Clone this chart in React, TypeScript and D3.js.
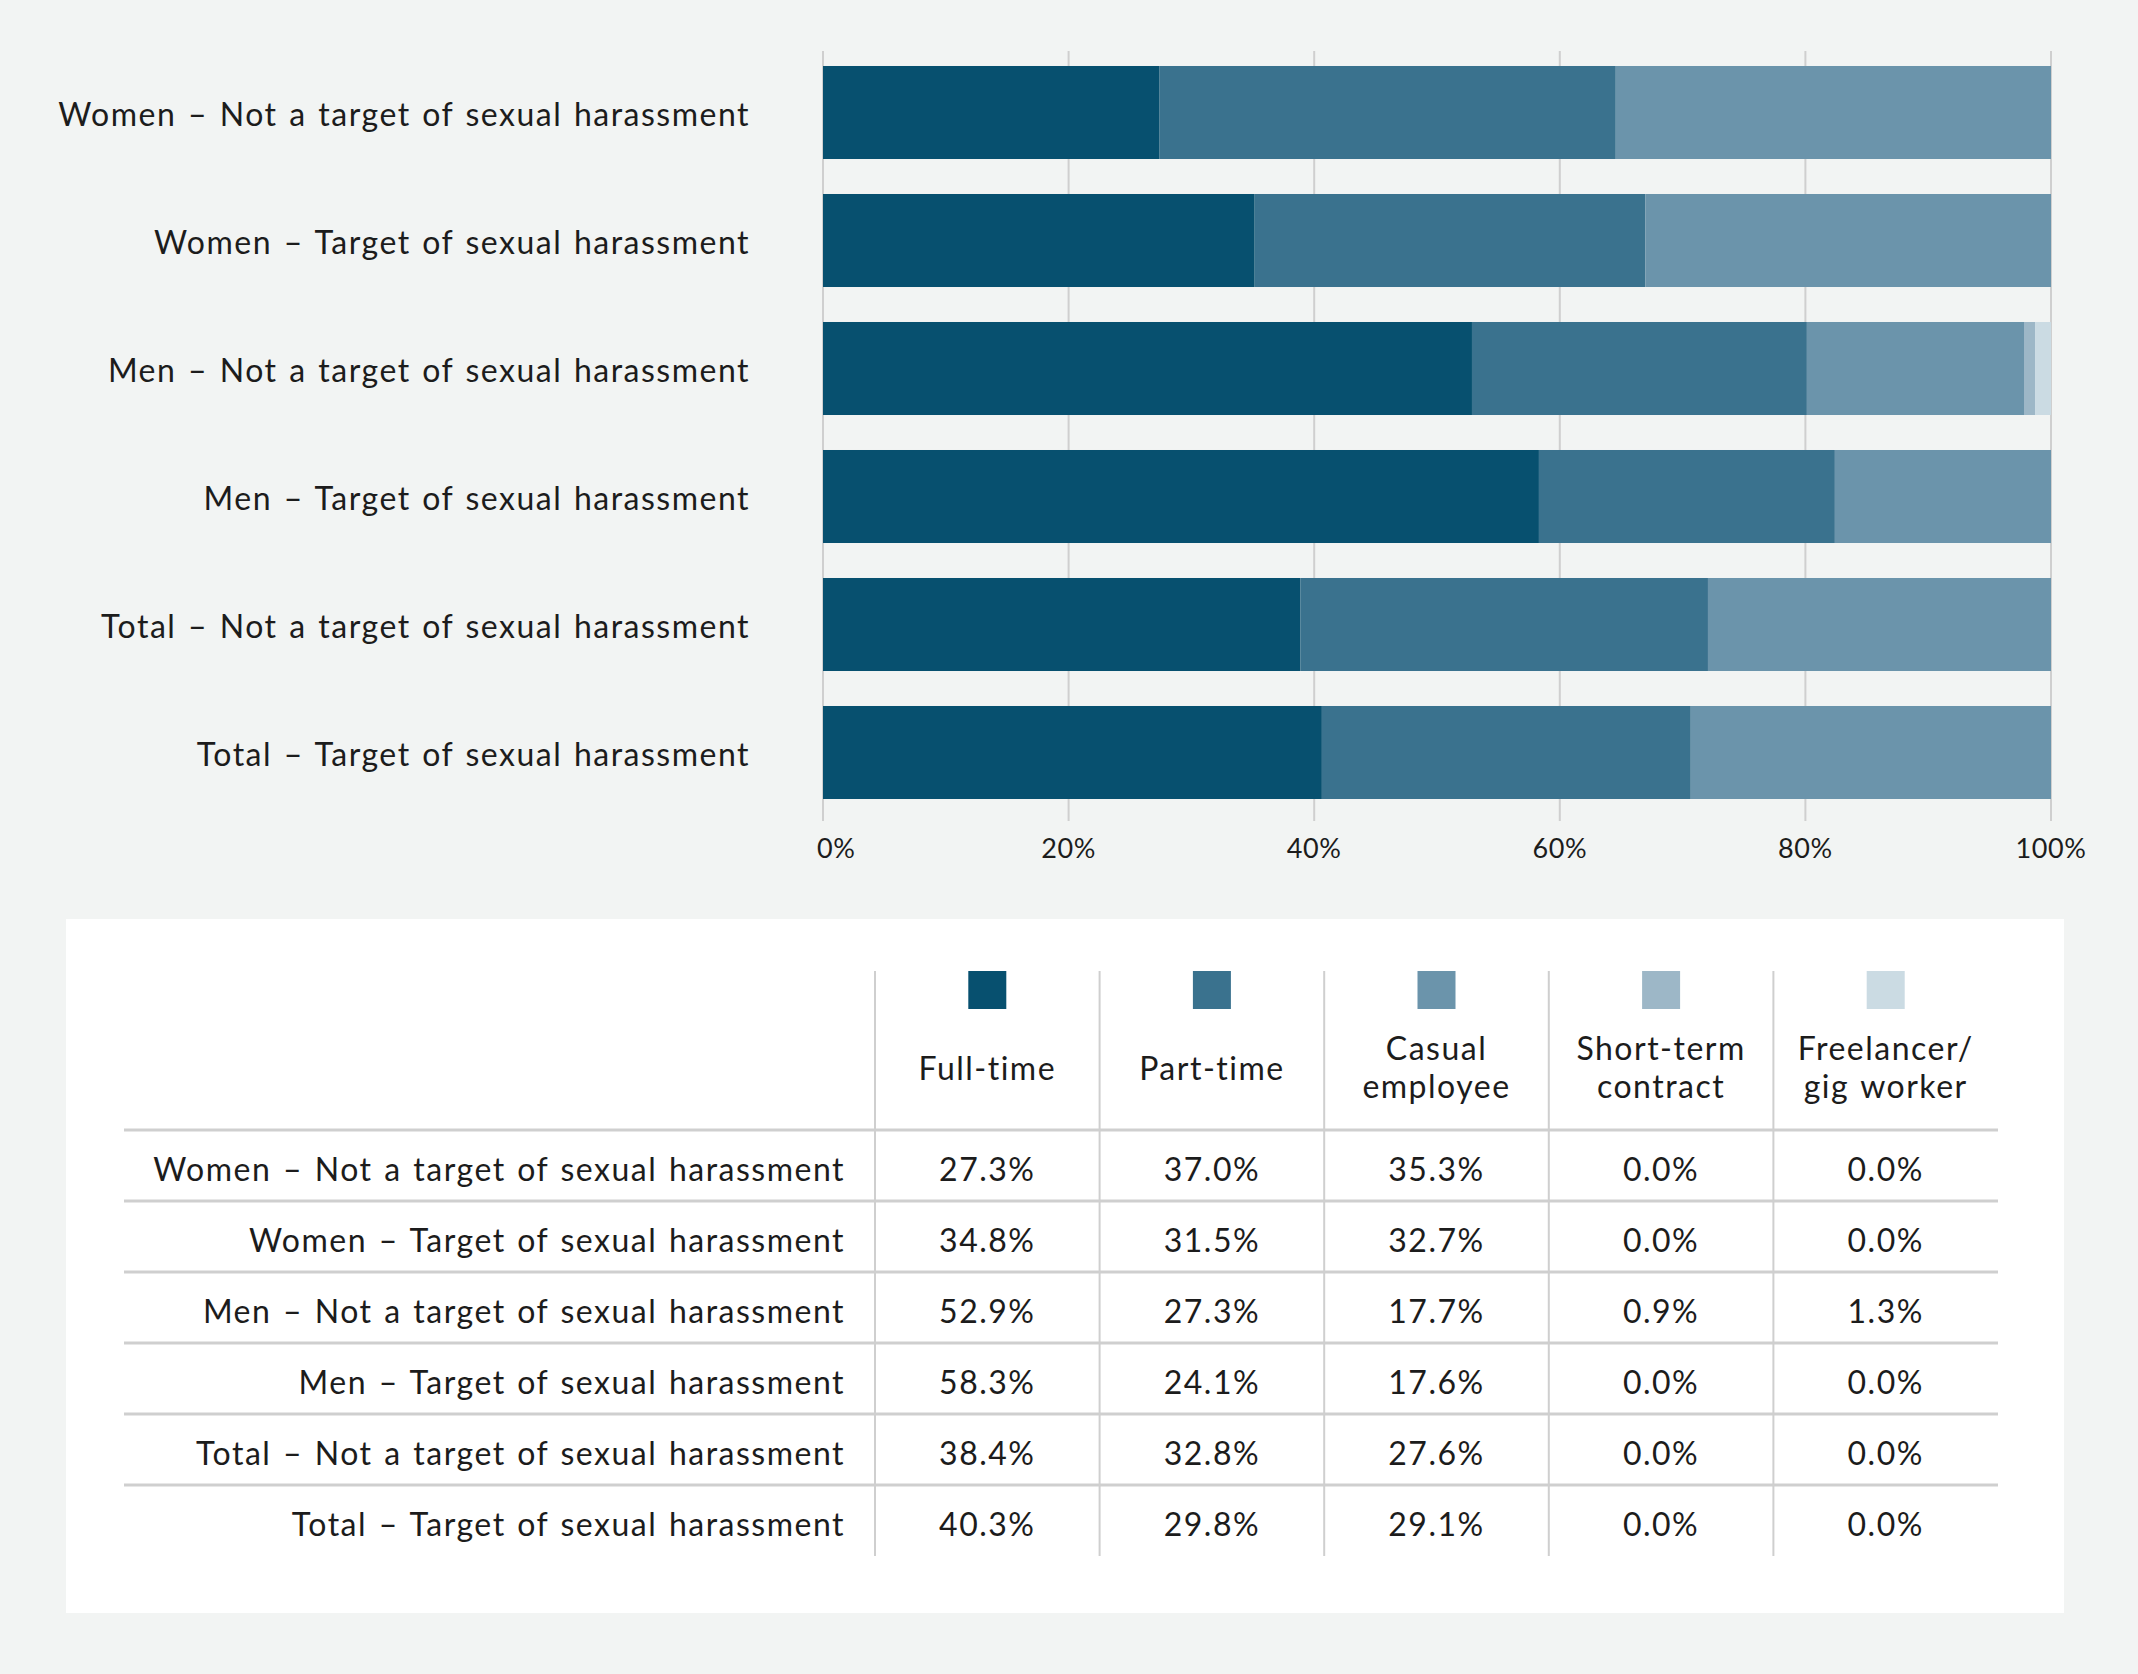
import React from 'react';
import * as d3 from 'd3';

const categories = [
  'Women – Not a target of sexual harassment',
  'Women – Target of sexual harassment',
  'Men – Not a target of sexual harassment',
  'Men – Target of sexual harassment',
  'Total – Not a target of sexual harassment',
  'Total – Target of sexual harassment',
];
const seriesKeys = ['fullTime', 'partTime', 'casual', 'shortTerm', 'freelancer'];
const headerLines = [['Full-time'], ['Part-time'], ['Casual', 'employee'], ['Short-term', 'contract'], ['Freelancer/', 'gig worker']];
const fullTime = [27.3, 34.8, 52.9, 58.3, 38.4, 40.3];
const partTime = [37.0, 31.5, 27.3, 24.1, 32.8, 29.8];
const casual = [35.3, 32.7, 17.7, 17.6, 27.6, 29.1];
const shortTerm = [0.0, 0.0, 0.9, 0.0, 0.0, 0.0];
const freelancer = [0.0, 0.0, 1.3, 0.0, 0.0, 0.0];
const tickValues = [0, 0.2, 0.4, 0.6, 0.8, 1];
const colors = ['#07506f', '#3a728e', '#6b94ab', '#9db7c7', '#cbdbe3'];

const seriesValues = [fullTime, partTime, casual, shortTerm, freelancer];
const rows = categories.map((c, i) => {
  const r: any = { category: c };
  seriesKeys.forEach((k, j) => (r[k] = seriesValues[j][i]));
  return r;
});

const W = 2138;
const H = 1674;
const FONT = 'Lato, "Noto Sans", sans-serif';
const TEXT = '#1c1c1c';
const GRID = '#cfcfcf';
const textStyle = { fontSize: 32, letterSpacing: 1.5, wordSpacing: 2 };

export default function App() {
  const stacked = d3.stack<any>().keys(seriesKeys).offset(d3.stackOffsetExpand)(rows);
  const x = d3.scaleLinear().domain([0, 1]).range([823, 2051]);
  const y = d3.scaleBand<string>().domain(categories).range([48.5, 816.5]).paddingInner(0.2734).paddingOuter(0.1367);
  const fmt = d3.format('.0%');

  const colX = d3.scaleBand<string>().domain(seriesKeys).range([875, 1998]).padding(0);
  const rowY = d3.scaleBand<string>().domain(categories).range([1130, 1556]).padding(0);
  const colorOf = d3.scaleOrdinal<string, string>().domain(seriesKeys).range(colors);

  return (
    <div style={{ position: 'absolute', left: 0, top: 0, width: W, height: H }}>
      <svg width={W} height={H} style={{ display: 'block' }} fontFamily={FONT}>
        <rect x={0} y={0} width={W} height={H} fill="#f2f4f3" />
        {/* gridlines */}
        {tickValues.map((t) => (
          <line key={'g' + t} x1={x(t)} x2={x(t)} y1={51} y2={821} stroke={GRID} strokeWidth={2} />
        ))}
        {/* bars */}
        {stacked.map((s, si) => (
          <g key={s.key} fill={colors[si]}>
            {s.map((d, i) => (
              <rect
                key={i}
                x={x(d[0])}
                y={y(categories[i])}
                width={Math.max(0, x(d[1]) - x(d[0]))}
                height={y.bandwidth()}
              />
            ))}
          </g>
        ))}
        {/* category labels */}
        {categories.map((c) => (
          <text key={c} x={750} y={(y(c) as number) + y.bandwidth() / 2 + 13.5} textAnchor="end" style={textStyle} fill={TEXT}>
            {c}
          </text>
        ))}
        {/* tick labels */}
        {tickValues.map((t, i) => (
          <text
            key={'t' + t}
            x={i === 0 ? x(t) - 6 : x(t)}
            y={858}
            textAnchor={i === 0 ? 'start' : 'middle'}
            fontSize={27}
            letterSpacing={0.6}
            fill={TEXT}
          >
            {fmt(t)}
          </text>
        ))}

        {/* table panel */}
        <rect x={66} y={919} width={1998} height={694} fill="#ffffff" />
        {/* header: legend squares and names */}
        {seriesKeys.map((k, j) => {
          const cx = (colX(k) as number) + colX.bandwidth() / 2;
          const lines = headerLines[j];
          return (
            <g key={'h' + k}>
              <rect x={cx - 19} y={971} width={38} height={38} fill={colorOf(k)} />
              {lines.map((ln, li) => (
                <text
                  key={li}
                  x={cx}
                  y={lines.length === 1 ? 1080 : 1060 + li * 38}
                  textAnchor="middle"
                  style={textStyle}
                  fill={TEXT}
                >
                  {ln}
                </text>
              ))}
            </g>
          );
        })}
        {/* horizontal rules */}
        {[1130, ...categories.slice(0, -1).map((c) => (rowY(c) as number) + rowY.bandwidth())].map((yy, i) => (
          <line key={'hr' + i} x1={124} x2={1998} y1={yy} y2={yy} stroke={GRID} strokeWidth={3} />
        ))}
        {/* vertical dividers */}
        {seriesKeys.map((k) => (
          <line key={'vd' + k} x1={colX(k)} x2={colX(k)} y1={971} y2={1556} stroke={GRID} strokeWidth={2} />
        ))}
        {/* table rows */}
        {rows.map((r) => {
          const cy = (rowY(r.category) as number) + rowY.bandwidth() / 2 + 15;
          return (
            <g key={'r' + r.category}>
              <text x={845} y={cy} textAnchor="end" style={textStyle} fill={TEXT}>
                {r.category}
              </text>
              {seriesKeys.map((k) => (
                <text
                  key={k}
                  x={(colX(k) as number) + colX.bandwidth() / 2}
                  y={cy}
                  textAnchor="middle"
                  style={textStyle}
                  fill={TEXT}
                >
                  {d3.format('.1f')(r[k]) + '%'}
                </text>
              ))}
            </g>
          );
        })}
      </svg>
    </div>
  );
}
